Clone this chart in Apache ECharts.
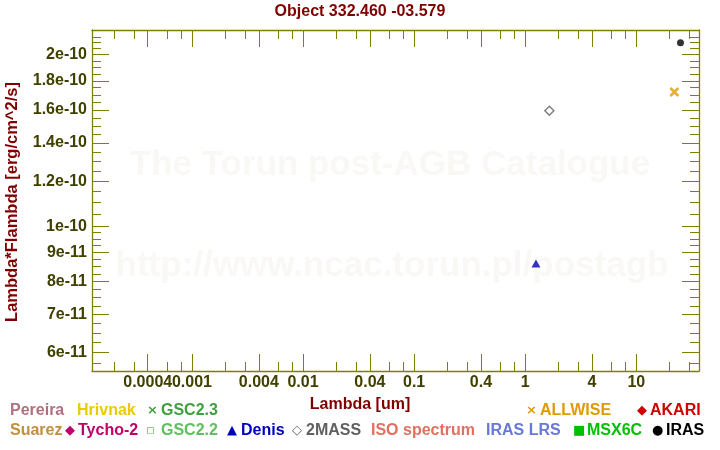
<!DOCTYPE html>
<html><head><meta charset="utf-8">
<script src="https://cdn.jsdelivr.net/npm/echarts@6/dist/echarts.min.js"></script>
<style>html,body{margin:0;padding:0;background:#fff}#c{width:720px;height:450px}</style>
</head><body><div id="c"></div>
<script>
// ---- data ----
const xTickLabels = ['0.0004','0.001','0.004','0.01','0.04','0.1','0.4','1','4','10'];
const yTickLabels = ['6e-11','7e-11','8e-11','9e-11','1e-10','1.2e-10','1.4e-10','1.6e-10','1.8e-10','2e-10'];
const xRange = [1.26e-4, 36.7];
const yRange = [5.57e-11, 2.21e-10];
const xMinorMultipliers = [2, 3, 6, 8];

const irasLambda = [25];     const irasFlux = [2.1e-10];
const allwiseLambda = [22];  const allwiseFlux = [1.72e-10];
const twomassLambda = [1.65]; const twomassFlux = [1.595e-10];
const denisLambda = [1.25];  const denisFlux = [8.6e-11];

const legendRow1 = ['Pereira', 'Hrivnak', 'GSC2.3', 'ALLWISE', 'AKARI'];
const legendRow2 = ['Suarez', 'Tycho-2', 'GSC2.2', 'Denis', '2MASS', 'ISO spectrum', 'IRAS LRS', 'MSX6C', 'IRAS'];

// ---- styles / layout ----
const FONT = '"Liberation Sans", Arial, sans-serif';
const OLIVE = '#808000';
const LABEL = '#404000';
const legendStyle = {
  'Pereira':      {color: '#b07080', x: 10,  mark: ''},
  'Hrivnak':      {color: '#e8cc00', x: 77,  mark: ''},
  'GSC2.3':       {color: '#40a040', x: 161, mark: '×', mx: 147},
  'ALLWISE':      {color: '#e09a00', x: 540, mark: '×', mx: 526},
  'AKARI':        {color: '#d00000', x: 650, mark: '◆', mx: 637},
  'Suarez':       {color: '#c09040', x: 10,  mark: ''},
  'Tycho-2':      {color: '#c0006a', x: 78,  mark: '◆', mx: 65},
  'GSC2.2':       {color: '#60c060', x: 161, mark: '▫', mx: 146},
  'Denis':        {color: '#0000c0', x: 241, mark: '▲', mx: 227},
  '2MASS':        {color: '#606060', x: 306, mark: '◇', mx: 292},
  'ISO spectrum': {color: '#e07060', x: 371, mark: ''},
  'IRAS LRS':     {color: '#6878d8', x: 486, mark: ''},
  'MSX6C':        {color: '#00c000', x: 587, mark: '■', mx: 573},
  'IRAS':         {color: '#000000', x: 666, mark: '●', mx: 652}
};
const row1Y = 411, row2Y = 431;

const L = Math.log10;
const xMajor = xTickLabels.map(Number);
const yMajor = yTickLabels.map(Number);
const xMinor = [];
for (let k = -4; k <= 1; k++) xMinorMultipliers.forEach(m => {
  const v = m * Math.pow(10, k);
  if (v > xRange[0] && v < xRange[1]) xMinor.push(v);
});
const yMinor = [];
for (let i = 23; i < 40; i++) { if (i % 4) yMinor.push(i * 0.25e-11); }
for (let i = 21; i <= 44; i++) { if (i % 4) yMinor.push(i * 0.05e-10); }

function lookup(labels, v) {
  let best = labels[0], d = 1e9;
  labels.forEach(s => { const dd = Math.abs(L(Number(s)) - v); if (dd < d) { d = dd; best = s; } });
  return best;
}

// labels: strings shown on this axis (split over two axes so touching labels are not auto-hidden)
function axis(dim, pos, showLine, ticks, len, labels) {
  const range = dim === 'x' ? xRange : yRange;
  return {
    type: 'value', position: pos, min: L(range[0]), max: L(range[1]),
    axisLine: {show: showLine, onZero: false, lineStyle: {color: OLIVE, width: 1.3}},
    axisTick: {show: true, inside: true, length: len, customValues: ticks.map(L), lineStyle: {color: OLIVE, width: 1}},
    axisLabel: labels ? {
      show: true, customValues: labels.map(s => L(Number(s))), formatter: v => lookup(labels, v), hideOverlap: false, interval: 0,
      showMinLabel: true, showMaxLabel: true,
      color: LABEL, fontFamily: FONT, fontWeight: 'bold', fontSize: 16, margin: dim === 'x' ? 4 : 5
    } : {show: false},
    splitLine: {show: false}
  };
}

const graphics = [
  {type: 'text', x: 390, y: 165, z: -1, style: {text: 'The Torun post-AGB Catalogue', fill: '#f9f8f4', font: 'bold 35px ' + FONT, textAlign: 'center', textVerticalAlign: 'middle'}},
  {type: 'text', x: 392, y: 266, z: -1, style: {text: 'http://www.ncac.torun.pl/postagb', fill: '#f9f8f4', font: 'bold 35px ' + FONT, textAlign: 'center', textVerticalAlign: 'middle'}},
  {type: 'text', x: 360, y: 12, style: {text: 'Object 332.460 -03.579', fill: '#800000', font: 'bold 16px ' + FONT, textAlign: 'center', textVerticalAlign: 'middle'}},
  {type: 'text', x: 360, y: 405, style: {text: 'Lambda [um]', fill: '#800000', font: 'bold 16px ' + FONT, textAlign: 'center', textVerticalAlign: 'middle'}},
  {type: 'text', x: 12, y: 202, rotation: Math.PI / 2, style: {text: 'Lambda*Flambda [erg/cm^2/s]', fill: '#800000', font: 'bold 16.5px ' + FONT, textAlign: 'center', textVerticalAlign: 'middle'}}
];
[[legendRow1, row1Y], [legendRow2, row2Y]].forEach(([row, y]) => row.forEach(name => {
  const s = legendStyle[name];
  if (s.mark) graphics.push({type: 'text', x: s.mx, y: y, style: {text: s.mark, fill: s.color, font: 'bold 13px "DejaVu Sans", sans-serif', textAlign: 'left', textVerticalAlign: 'middle'}});
  graphics.push({type: 'text', x: s.x, y: y, style: {text: name, fill: s.color, font: 'bold 16px ' + FONT, textAlign: 'left', textVerticalAlign: 'middle'}});
}));

function pts(lam, flux) { return lam.map((l, i) => [L(l), L(flux[i])]); }

const xLabelsA = xTickLabels.filter((s, i) => i % 2 === 1);
const xLabelsB = xTickLabels.filter((s, i) => i % 2 === 0);

const option = {
  animation: false,
  backgroundColor: '#fff',
  grid: {left: 92, top: 30, width: 607, height: 341, containLabel: false},
  xAxis: [
    axis('x', 'bottom', true, xMajor, 17, xLabelsA),
    axis('x', 'bottom', false, xMinor, 9, xLabelsB),
    axis('x', 'top', true, xMajor, 17, null),
    axis('x', 'top', false, xMinor, 9, null)
  ],
  yAxis: [
    axis('y', 'left', true, yMajor, 17, yTickLabels),
    axis('y', 'left', false, yMinor, 9, null),
    axis('y', 'right', true, yMajor, 17, null),
    axis('y', 'right', false, yMinor, 9, null)
  ],
  graphic: graphics,
  series: [
    {name: 'IRAS', type: 'scatter', data: pts(irasLambda, irasFlux), symbol: 'circle', symbolSize: 7, itemStyle: {color: '#000'}},
    {name: 'ALLWISE', type: 'scatter', data: pts(allwiseLambda, allwiseFlux), symbol: 'path://M0,0L10,10M10,0L0,10', symbolSize: 8,
     itemStyle: {color: 'rgba(0,0,0,0)', borderColor: '#e09a00', borderWidth: 2.6}},
    {name: '2MASS', type: 'scatter', data: pts(twomassLambda, twomassFlux), symbol: 'diamond', symbolSize: 9,
     itemStyle: {color: '#fff', borderColor: '#606060', borderWidth: 1.5}},
    {name: 'Denis', type: 'scatter', data: pts(denisLambda, denisFlux), symbol: 'triangle', symbolSize: [9, 8], itemStyle: {color: '#0000c0'}}
  ]
};
echarts.init(document.getElementById('c'), null, {renderer: 'canvas'}).setOption(option);
</script></body></html>
